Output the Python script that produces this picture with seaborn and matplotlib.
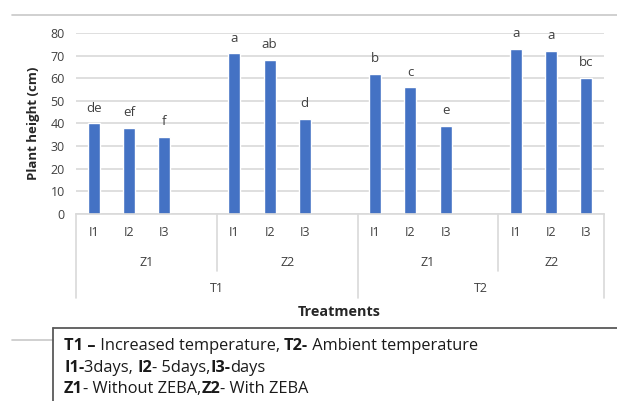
import matplotlib
matplotlib.use("Agg")
import matplotlib.pyplot as plt
import matplotlib.transforms as mtransforms
from matplotlib.lines import Line2D
import seaborn as sns
import pandas as pd

# ---- data ----
temps = ["T1", "T1", "T1", "T1", "T1", "T1", "T2", "T2", "T2", "T2", "T2", "T2"]
zebas = ["Z1", "Z1", "Z1", "Z2", "Z2", "Z2", "Z1", "Z1", "Z1", "Z2", "Z2", "Z2"]
irrig = ["I1", "I2", "I3", "I1", "I2", "I3", "I1", "I2", "I3", "I1", "I2", "I3"]
height = [40, 38, 34, 71, 68, 42, 62, 56, 39, 73, 72, 60]
letters = ["de", "ef", "f", "a", "ab", "d", "b", "c", "e", "a", "a", "bc"]
group_labels = ["Z1", "Z2", "Z1", "Z2"]
temp_labels = ["T1", "T2"]

W, H = 617, 401
sns.set_theme(style="white")
FONT = ["Open Sans", "DejaVu Sans"]
plt.rcParams["font.family"] = FONT

fig = plt.figure(figsize=(W / 100, H / 100), dpi=100)
fig.patch.set_facecolor("white")

def fx(px):
    return px / W

def fy(py):
    return 1 - py / H

ax = fig.add_axes([fx(76), fy(214), fx(604) - fx(76), fy(33) - fy(214)])

keys = [f"{t}-{z}-{i}" for t, z, i in zip(temps, zebas, irrig)]
df = pd.DataFrame({"key": keys, "height": height})
# slot order with blank spacer slot after each group (except the last)
order = []
for g in range(4):
    order += keys[g * 3:(g + 1) * 3]
    if g < 3:
        order.append(f"blank{g}")

sns.barplot(data=df, x="key", y="height", order=order, color="#4472C4",
            saturation=1, width=0.34, ax=ax, errorbar=None)

TXT = "#404040"
ax.set_ylim(0, 80)
ax.set_xlim(-0.5, len(order) - 0.5)
ax.set_yticks(range(0, 81, 10))
ax.yaxis.grid(True, color="#D9D9D9", linewidth=1.2)
ax.set_axisbelow(True)
for s in ["left", "right", "top"]:
    ax.spines[s].set_visible(False)
ax.spines["bottom"].set_color("#D9D9D9")
ax.spines["bottom"].set_linewidth(1.2)
ax.tick_params(axis="y", length=0, pad=8, labelsize=9, labelcolor=TXT)
ax.set_xticks([])
ax.set_xlabel("")
ax.set_ylabel("")

# letters above bars
for k, v, lab in zip(keys, height, letters):
    xpos = order.index(k)
    ax.annotate(lab, (xpos, v), xytext=(0, 11), textcoords="offset points",
                ha="center", va="center", fontsize=9.5, color=TXT)

trans = mtransforms.blended_transform_factory(ax.transData, ax.transAxes)
ah = 214 - 33

def ay(py):
    return -(py - 214) / ah

# category labels
for k, i in zip(keys, irrig):
    xpos = order.index(k)
    ax.text(xpos, ay(233), i, transform=trans, ha="center", va="center",
            fontsize=9, color=TXT)
group_bounds = [(-0.5, 3.5), (3.5, 7.5), (7.5, 11.5), (11.5, 14.5)]
for (a, b), lab in zip(group_bounds, group_labels):
    ax.text((a + b) / 2, ay(262), lab, transform=trans, ha="center", va="center",
            fontsize=9, color=TXT)
for (a, b), lab in zip([(-0.5, 7.5), (7.5, 14.5)], temp_labels):
    ax.text((a + b) / 2, ay(289), lab, transform=trans, ha="center", va="center",
            fontsize=9, color=TXT)

# separator lines
for xv, yend in [(-0.5, 298), (3.5, 271), (7.5, 298), (11.5, 271), (14.5, 298)]:
    ax.add_line(Line2D([xv, xv], [0, ay(yend)], transform=trans, color="#D9D9D9",
                       linewidth=1.2, clip_on=False))

fig.text(fx(33), fy(123.5), "Plant height (cm)", rotation=90, ha="center", va="center",
         fontsize=9.5, fontweight="bold", color="#262626")
fig.text(fx(339), fy(312), "Treatments", ha="center", va="center",
         fontsize=10.4, fontweight="bold", color="#262626")

# decorative lines
fig.add_artist(Line2D([fx(12), fx(617)], [fy(15), fy(15)], color="#C8C8C8", linewidth=1.2))
fig.add_artist(Line2D([fx(12), fx(53)], [fy(340), fy(340)], color="#C8C8C8", linewidth=1.2))
fig.add_artist(Line2D([fx(53), fx(617)], [fy(328), fy(328)], color="#595959", linewidth=1.3))
fig.add_artist(Line2D([fx(53), fx(53)], [fy(328), fy(401)], color="#595959", linewidth=1.3))

# legend text with mixed weights
renderer = fig.canvas.get_renderer()
lines = [
    (346, [("T1 \u2013", "bold"), (" Increased temperature, ", "normal"), ("T2-", "bold"), (" Ambient temperature", "normal")]),
    (368, [("I1-", "bold"), ("3days, ", "normal"), ("I2", "bold"), ("- 5days,", "normal"), ("I3-", "bold"), ("days", "normal")]),
    (389, [("Z1", "bold"), ("- Without ZEBA,", "normal"), ("Z2", "bold"), ("- With ZEBA", "normal")]),
]
for ypx, parts in lines:
    xpx = 64
    for txt, wt in parts:
        t = fig.text(fx(xpx), fy(ypx), txt, ha="left", va="center", fontsize=11.8,
                     fontweight=wt, color="#1a1a1a")
        bb = t.get_window_extent(renderer=renderer)
        xpx += bb.width

fig.savefig("out.png", dpi=100, facecolor="white")
